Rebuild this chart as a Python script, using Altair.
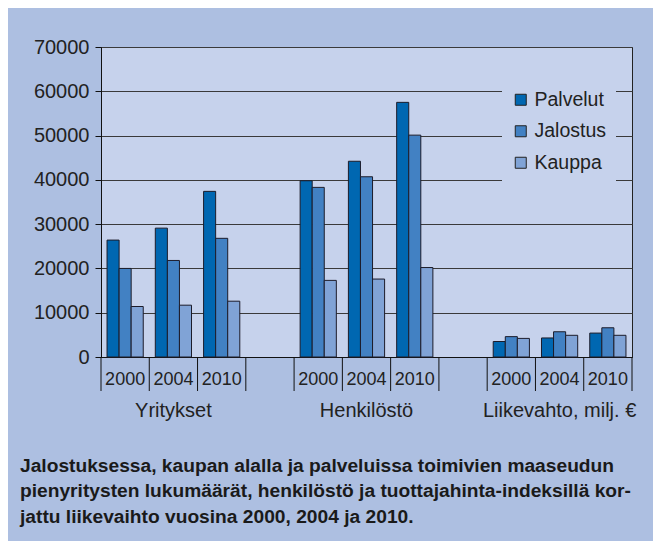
import altair as alt
import pandas as pd

years = ["2000", "2004", "2010"]
groups = ["Yritykset", "Henkilöstö", "Liikevahto, milj. €"]
series = ["Palvelut", "Jalostus", "Kauppa"]

yritykset_palvelut = [26400, 29100, 37400]
yritykset_jalostus = [20000, 21800, 26800]
yritykset_kauppa = [11400, 11700, 12600]
henkilosto_palvelut = [39800, 44200, 57500]
henkilosto_jalostus = [38300, 40700, 50100]
henkilosto_kauppa = [17300, 17600, 20200]
liikevaihto_palvelut = [3500, 4300, 5400]
liikevaihto_jalostus = [4600, 5700, 6600]
liikevaihto_kauppa = [4200, 4900, 4900]

caption_lines = [
    "Jalostuksessa, kaupan alalla ja palveluissa toimivien maaseudun",
    "pienyritysten lukumäärät, henkilöstö ja tuottajahinta-indeksillä kor-",
    "jattu liikevaihto vuosina 2000, 2004 ja 2010.",
]

colors = ["#0067b1", "#4281c3", "#80a3d6"]
outer_bg = "#adbfe1"
plot_bg = "#c6d2ec"

values = {
    "Yritykset": [yritykset_palvelut, yritykset_jalostus, yritykset_kauppa],
    "Henkilöstö": [henkilosto_palvelut, henkilosto_jalostus, henkilosto_kauppa],
    "Liikevahto, milj. €": [liikevaihto_palvelut, liikevaihto_jalostus, liikevaihto_kauppa],
}

slots = []
for gi, g in enumerate(groups):
    for y in years:
        slots.append(f"{g}|{y}")
    if gi < len(groups) - 1:
        slots.append(f"gap{gi}")

rows = []
for g in groups:
    for si, s in enumerate(series):
        for yi, y in enumerate(years):
            rows.append({"slot": f"{g}|{y}", "series": s, "value": values[g][si][yi]})
df = pd.DataFrame(rows)

year_df = pd.DataFrame([{"slot": f"{g}|{y}", "label": y} for g in groups for y in years])
label_df = pd.DataFrame({"slot": [f"{g}|2004" for g in groups], "label": groups})
tick_df = pd.DataFrame({"slot": slots})
end_df = pd.DataFrame({"slot": [slots[-1]]})
caption_df = pd.DataFrame({"caption": ["\n".join(caption_lines)]})

FONT = "Liberation Sans"

x_scale = alt.Scale(domain=slots, paddingInner=0, paddingOuter=0)
x_axis = alt.Axis(title=None, ticks=False, labels=False, grid=False,
                  domainColor="#111", orient="bottom")


def xenc(**kw):
    return alt.X("slot:N", scale=x_scale, sort=slots, axis=x_axis, **kw)


bars = alt.Chart(df).mark_bar(stroke="#1c1c2a", strokeWidth=1).encode(
    x=xenc(),
    xOffset=alt.XOffset("series:N", sort=series,
                        scale=alt.Scale(domain=series, paddingInner=0, paddingOuter=0.5)),
    y=alt.Y("value:Q", scale=alt.Scale(domain=[0, 70000], nice=False), axis=alt.Axis(
        title=None, values=list(range(0, 70001, 10000)), format="d",
        labelFontSize=20, labelColor="#222", labelPadding=6,
        tickColor="#111", tickSize=6, domainColor="#111",
        grid=True, gridColor="#3a3a3a", gridWidth=1)),
    color=alt.Color("series:N", sort=series,
                    scale=alt.Scale(domain=series, range=colors),
                    legend=alt.Legend(title=None, orient="none", legendX=401, legendY=34,
                                      fillColor=plot_bg, padding=9,
                                      symbolType="square", symbolSize=121,
                                      symbolStrokeColor="#222", symbolStrokeWidth=1,
                                      labelFontSize=19.5, labelColor="#222",
                                      labelOffset=4, rowPadding=10.5)),
)

ticks_start = alt.Chart(tick_df).mark_rule(color="#111", strokeWidth=1).encode(
    x=xenc(bandPosition=0),
    y=alt.value(310),
    y2=alt.value(344),
)

ticks_end = alt.Chart(end_df).mark_rule(color="#111", strokeWidth=1).encode(
    x=xenc(bandPosition=1),
    y=alt.value(310),
    y2=alt.value(344),
)

year_text = alt.Chart(year_df).mark_text(
    fontSize=18, color="#222", baseline="middle", align="center", font=FONT
).encode(
    x=xenc(),
    y=alt.value(333),
    text="label:N",
)

group_text = alt.Chart(label_df).mark_text(
    fontSize=20, color="#222", baseline="middle", align="center", font=FONT
).encode(
    x=xenc(),
    y=alt.value(364),
    text="label:N",
)

caption = alt.Chart(caption_df).mark_text(
    fontSize=19.2, fontWeight="bold", color="#1a1a1a", align="left",
    baseline="alphabetic", lineHeight=25.5, lineBreak="\n", font=FONT
).encode(
    x=alt.value(-81),
    y=alt.value(424.5),
    text="caption:N",
)

chart = alt.layer(bars, ticks_start, ticks_end, year_text, group_text, caption).properties(
    width=531, height=310,
    padding={"left": 93, "top": 39, "right": 21, "bottom": 184},
    autosize=alt.AutoSizeParams(type="none"),
    background=outer_bg,
    view=alt.ViewBackground(fill=plot_bg, stroke="#222", strokeWidth=1),
).configure_view(
    fill=plot_bg, stroke="#222", strokeWidth=1
).configure(font=FONT)

chart.save("out.html", embed_options={"renderer": "svg", "actions": False})
